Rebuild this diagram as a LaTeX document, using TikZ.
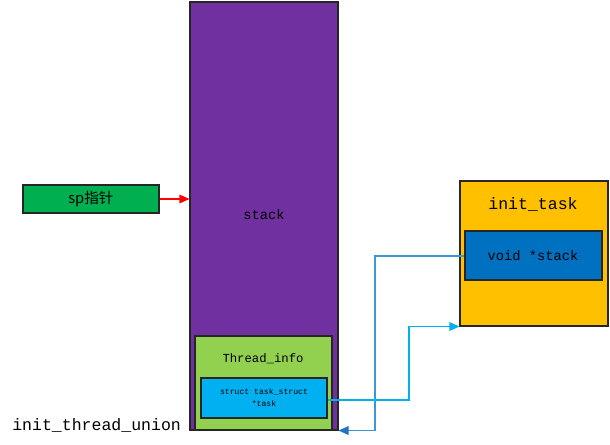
\documentclass[tikz,border=0pt]{standalone}
\usepackage{fontspec}
\setmonofont{Liberation Mono}
\newfontfamily\cjk{Noto Sans CJK SC}
\usetikzlibrary{arrows.meta,fit}
\definecolor{cpurple}{HTML}{7030A0}
\definecolor{cgreen}{HTML}{00B050}
\definecolor{clgreen}{HTML}{92D050}
\definecolor{ccyan}{HTML}{00B0F0}
\definecolor{corange}{HTML}{FFC000}
\definecolor{cblue}{HTML}{0070C0}
\definecolor{cline}{HTML}{3A98D4}
\definecolor{carrow}{HTML}{1F74C4}
\tikzset{
  box/.style={draw=black!85, line width=0.8pt, inner sep=0pt},
  txt/.style={font=\ttfamily, text=black, inner sep=0pt},
  link/.style={line width=0.8pt},
}
\begin{document}
\begin{tikzpicture}[x=0.75pt,y=-0.75pt]
\useasboundingbox (0,0) rectangle (610,445);
% stack
\node[box, fill=cpurple, fit={(190,2)(338,430)}] (stack) {};
\node[txt, font=\ttfamily\fontsize{10.3}{12}\selectfont] (stacklbl) at (264,215) {stack};
% sp
\node[box, fill=cgreen, fit={(23,185)(159,213)}] (sp) {};
\node[txt, font=\cjk\fontsize{11}{13}\selectfont] (splbl) at (91,199) {sp指针};
\draw[link, red, -{Triangle[length=7.5pt,width=6.5pt]}] (sp.east) -- (stack.west |- sp.east);
% thread info
\node[box, fill=clgreen, fit={(195,336)(332,430)}] (tinfo) {};
\node[txt, font=\ttfamily\fontsize{9.2}{11}\selectfont] (tinfolbl) at (263,359) {Thread\_info};
\node[box, fill=ccyan, fit={(201,378)(327,418)}] (task) {};
\node[txt, font=\ttfamily\fontsize{6.1}{9}\selectfont, align=center] (tasklbl) at (264,398) {struct task\_struct\\*task};
% init_task
\node[box, fill=corange, fit={(460,181)(608,326)}] (itask) {};
\node[txt, font=\ttfamily\fontsize{12.4}{14}\selectfont] (itasklbl) at (533,204) {init\_task};
\node[box, fill=cblue, fit={(465,231)(602,280)}] (vstack) {};
\node[txt, font=\ttfamily\fontsize{10.3}{12}\selectfont] (vstacklbl) at (533,256) {void *stack};
% label
\node[txt, font=\ttfamily\fontsize{12.4}{14}\selectfont, anchor=west] (union) at (12,425) {init\_thread\_union};
% connectors
\coordinate (k1) at (375,256);
\draw[link, cline, -{Triangle[length=7.5pt,width=6.5pt,color=carrow]}] (vstack.west |- k1) -- (k1) |- (stack.south east);
\coordinate (k2) at (409,400);
\draw[link, ccyan, -{Triangle[length=7.5pt,width=6.5pt]}] (task.east |- k2) -- (k2) |- (itask.south west);
\end{tikzpicture}
\end{document}
